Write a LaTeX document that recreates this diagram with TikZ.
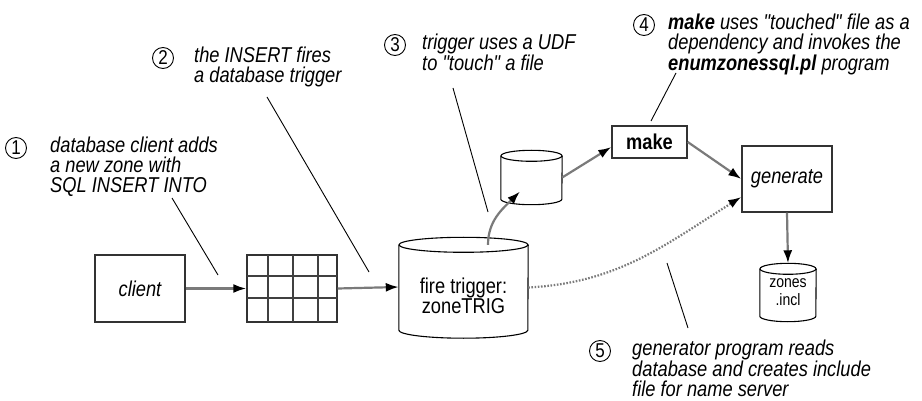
\documentclass[tikz,border=0pt]{standalone}
\usepackage{fontspec}
\setmainfont{Liberation Sans}[FakeStretch=0.85, Ligatures=TeXOff]
\usetikzlibrary{arrows.meta}

\begin{document}
\begin{tikzpicture}[x=1pt, y=-1pt,
  note/.style={font=\fontsize{21.5}{20}\selectfont\itshape, align=left,
    anchor=north west, inner sep=0pt},
  num/.style={circle, draw, line width=0.9pt, minimum size=21pt, inner sep=0pt,
    font=\fontsize{20}{20}\selectfont},
  leader/.style={line width=0.9pt},
  flow/.style={draw=black!52, line width=2.2pt,
    -{Latex[length=13pt, width=9pt, color=black]}},
  dotflow/.style={flow, dash pattern=on 1.6pt off 1.6pt},
  box/.style={draw=black!80, line width=1.4pt, inner sep=0pt},
  gridline/.style={draw=black!75, line width=1.4pt},
  cylline/.style={line width=1.1pt},
  body/.style={inner sep=0pt},
  label/.style={font=\fontsize{21.5}{19}\selectfont, align=center, inner sep=0pt}
]
\useasboundingbox (0,0) rectangle (922,401);

% --- main nodes -------------------------------------------------------
\node[box, minimum width=90pt, minimum height=67pt, font=\fontsize{21.5}{19}\selectfont\itshape]
  (client) at (140,288.5) {client};
\node[box, minimum width=90pt, minimum height=67pt] (tbl) at (292,288.5) {};
\foreach \gx in {268,293,318} \draw[gridline] (\gx,255) -- (\gx,322);
\foreach \gy in {276,298} \draw[gridline] (247,\gy) -- (337,\gy);

% database holding the trigger
\node[body, minimum width=129pt, minimum height=85pt] (trig) at (463.5,287.5) {};
\draw[cylline] (trig.north west) -- (trig.south west)
  arc[start angle=180, end angle=360, x radius=64.5pt, y radius=8pt] -- (trig.north east);
\draw[cylline] (trig.north) ellipse[x radius=64.5pt, y radius=7.5pt];
\node[label] (trigtext) at (463.5,296) {fire trigger:\\zoneTRIG};

% touched file
\node[body, minimum width=61pt, minimum height=43pt] (touchf) at (531.5,177.5) {};
\draw[cylline] (touchf.north west) -- (touchf.south west)
  arc[start angle=180, end angle=360, x radius=30.5pt, y radius=5.5pt] -- (touchf.north east);
\draw[cylline] (touchf.north) ellipse[x radius=30.5pt, y radius=5.5pt];

\node[box, minimum width=75pt, minimum height=32pt, font=\fontsize{21.5}{19}\selectfont\bfseries]
  (make) at (649.5,142) {make};
\node[box, minimum width=90pt, minimum height=66pt, font=\fontsize{21.5}{19}\selectfont\itshape]
  (gen) at (787,179) {generate};

% generated include file
\node[body, minimum width=56pt, minimum height=47pt, align=center,
  font=\fontsize{16.5}{18}\selectfont] (zones) at (788,292.5) {zones\\.incl};
\draw[cylline] (zones.north west) -- (zones.south west)
  arc[start angle=180, end angle=360, x radius=28pt, y radius=5.5pt] -- (zones.north east);
\draw[cylline] (zones.north) ellipse[x radius=28pt, y radius=5.5pt];

% --- data flow --------------------------------------------------------
\draw[flow] (client.east) -- (tbl.west);
\draw[flow] (tbl.east) -- ([yshift=0.5pt]trig.west);
\draw[flow] ([xshift=24.5pt]trig.north) to[out=90, in=225] ([xshift=-11.5pt, yshift=-14pt]touchf.center);
\draw[flow] (touchf.east) -- ([yshift=-5pt]make.west);
\draw[flow] (make.east) -- (gen.west);
\draw[dotflow] (trig.east) to[out=3, in=212] ([yshift=-18pt]gen.west);
\draw[flow] (gen.south) -- ([yshift=5.5pt]zones.north);

% --- numbered notes ---------------------------------------------------
\node[num] (n1) at (16,148) {1};
\node[note] (t1) at (50,136.6) {database client adds\\a new zone with\\SQL INSERT INTO};
\node[num] (n2) at (163,58) {2};
\node[note] (t2) at (194,46.6) {the INSERT fires\\a database trigger};
\node[num] (n3) at (395,45) {3};
\node[note] (t3) at (422,33.6) {trigger uses a UDF\\to "touch" a file};
\node[num] (n4) at (644,25) {4};
\node[note] (t4) at (668,13.6) {\textbf{make} uses "touched" file as a\\dependency and invokes the\\\textbf{enumzonessql.pl} program};
\node[num] (n5) at (600,351) {5};
\node[note] (t5) at (632,339.6) {generator program reads\\database and creates include\\file for name server};

% leader lines from the notes
\coordinate (a1) at (172,198); \coordinate (b1) at (218,275);
\coordinate (a2) at (267,97);  \coordinate (b2) at (369,272);
\coordinate (a3) at (453,88);  \coordinate (b3) at (488,212);
\coordinate (a4) at (676,73);  \coordinate (b4) at (651,121);
\coordinate (a5) at (667,263); \coordinate (b5) at (688,328);
\foreach \i in {1,...,5} \draw[leader] (a\i) -- (b\i);
\end{tikzpicture}
\end{document}
